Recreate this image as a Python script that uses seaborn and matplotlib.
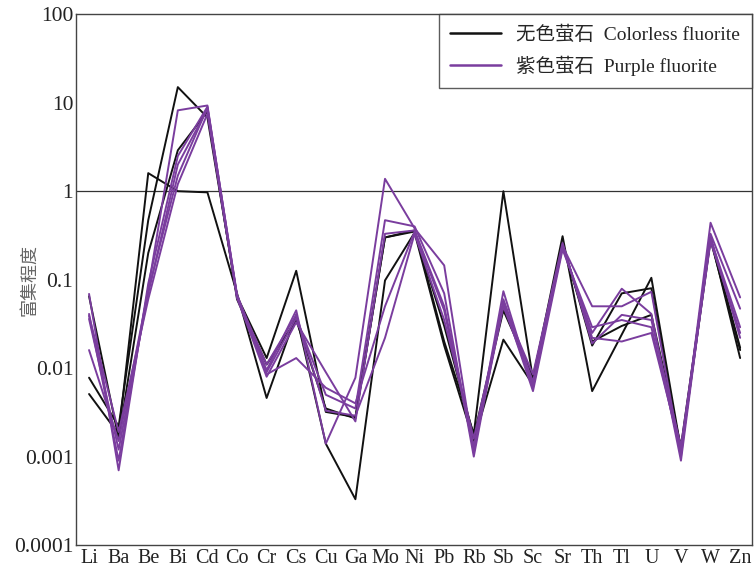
import numpy as np
import pandas as pd
import matplotlib
matplotlib.use("Agg")
import matplotlib.pyplot as plt
from matplotlib.lines import Line2D
import seaborn as sns

# elements on the x axis
elements = ["Li", "Ba", "Be", "Bi", "Cd", "Co", "Cr", "Cs", "Cu", "Ga", "Mo", "Ni",
            "Pb", "Rb", "Sb", "Sc", "Sr", "Th", "Tl", "U", "V", "W", "Zn"]

# colorless fluorite samples
colorless_1 = [0.0078, 0.0022, 0.47, 15, 6.8, 0.065, 0.013, 0.126, 0.0032, 0.0028, 0.3, 0.36,
               0.02, 0.0018, 1.0, 0.0075, 0.31, 0.0055, 0.024, 0.105, 0.0012, 0.3, 0.013]
colorless_2 = [0.0051, 0.0018, 1.6, 1.0, 0.97, 0.07, 0.0046, 0.04, 0.0014, 0.00033, 0.098, 0.34,
               0.018, 0.0015, 0.021, 0.0065, 0.26, 0.018, 0.07, 0.08, 0.0011, 0.28, 0.016]
colorless_3 = [0.065, 0.0016, 0.2, 2.9, 8.0, 0.06, 0.011, 0.035, 0.0035, 0.0027, 0.3, 0.35,
               0.03, 0.0017, 0.045, 0.008, 0.25, 0.02, 0.03, 0.04, 0.0013, 0.3, 0.017]

# purple fluorite samples
purple_1 = [0.041, 0.0009, 0.08, 8.2, 9.3, 0.065, 0.0095, 0.045, 0.0014, 0.0078, 1.38, 0.38,
            0.145, 0.0011, 0.074, 0.006, 0.24, 0.05, 0.05, 0.073, 0.001, 0.44, 0.063]
purple_2 = [0.069, 0.0007, 0.09, 2.5, 9.0, 0.068, 0.009, 0.037, 0.005, 0.0035, 0.47, 0.4,
            0.07, 0.001, 0.06, 0.007, 0.23, 0.025, 0.079, 0.041, 0.0009, 0.33, 0.047]
purple_3 = [0.036, 0.0012, 0.07, 2.0, 8.5, 0.062, 0.008, 0.033, 0.009, 0.0025, 0.33, 0.36,
            0.05, 0.0013, 0.055, 0.0055, 0.22, 0.029, 0.035, 0.029, 0.0011, 0.29, 0.029]
purple_4 = [0.016, 0.0015, 0.075, 1.5, 8.8, 0.066, 0.0085, 0.013, 0.006, 0.004, 0.05, 0.35,
            0.045, 0.0012, 0.05, 0.0065, 0.25, 0.022, 0.02, 0.025, 0.0012, 0.27, 0.025]
purple_5 = [0.039, 0.0019, 0.06, 1.2, 7.5, 0.064, 0.011, 0.04, 0.0033, 0.0029, 0.022, 0.33,
            0.035, 0.0016, 0.052, 0.0085, 0.26, 0.019, 0.04, 0.035, 0.0013, 0.3, 0.022]

samples = {
    ("colorless", "c1"): colorless_1,
    ("colorless", "c2"): colorless_2,
    ("colorless", "c3"): colorless_3,
    ("purple", "p1"): purple_1,
    ("purple", "p2"): purple_2,
    ("purple", "p3"): purple_3,
    ("purple", "p4"): purple_4,
    ("purple", "p5"): purple_5,
}

rows = []
for (group, name), vals in samples.items():
    for i, (el, v) in enumerate(zip(elements, vals)):
        rows.append({"group": group, "sample": name, "pos": i, "value": v})
df = pd.DataFrame(rows)

black = "#111111"
purple = "#7A3D9E"

sns.set_style("white")
plt.rcParams["font.family"] = ["Liberation Serif", "Noto Sans CJK SC"]

fig = plt.figure(figsize=(7.55, 5.69), dpi=100)
ax = fig.add_axes([0.1007, 0.042, 0.8953, 0.933])

ax.axhline(1, color="#333333", lw=0.9, zorder=0)

sns.lineplot(data=df[df.group == "colorless"], x="pos", y="value", units="sample",
             estimator=None, color=black, lw=1.4, ax=ax, legend=False)
sns.lineplot(data=df[df.group == "purple"], x="pos", y="value", units="sample",
             estimator=None, color=purple, lw=1.4, ax=ax, legend=False)

ax.set_yscale("log")
ax.set_ylim(0.0001, 100)
ax.set_xlim(-0.44, 22.4)
ax.set_yticks([0.0001, 0.001, 0.01, 0.1, 1, 10, 100])
ax.set_yticklabels(["0.0001", "0.001", "0.01", "0.1", "1", "10", "100"])
ax.minorticks_off()
ax.set_xticks(range(len(elements)))
ax.set_xticklabels(elements)
ax.tick_params(axis="y", direction="in", length=5, width=0.8, labelsize=15.5, pad=2, colors="#222222")
ax.tick_params(axis="x", length=0, labelsize=14.5, pad=3, colors="#222222")
ax.set_xlabel("")
ax.set_ylabel("富集程度", fontsize=13, color="#666666", family=["Noto Sans CJK SC"])
ax.yaxis.set_label_coords(-0.056, 0.5)

for s in ax.spines.values():
    s.set_color("#444444")
    s.set_linewidth(1.0)

handles = [Line2D([0], [0], color=black, lw=1.8),
           Line2D([0], [0], color=purple, lw=1.8)]
leg = ax.legend(handles, ["无色萤石  Colorless fluorite", "紫色萤石  Purple fluorite"],
                loc="upper right", bbox_to_anchor=(1.0, 1.0), fontsize=14,
                frameon=True, fancybox=False, edgecolor="#333333",
                handlelength=2.6, borderpad=0.6, labelspacing=0.6, borderaxespad=0)
leg.get_frame().set_linewidth(1.0)

fig.savefig("out.png", dpi=100)
